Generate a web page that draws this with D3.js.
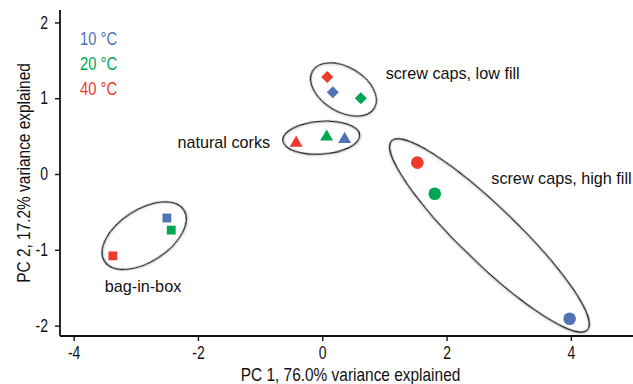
<!DOCTYPE html>
<html>
<head>
<meta charset="utf-8">
<script src="https://cdn.jsdelivr.net/npm/d3@7/dist/d3.min.js"></script>
<style>
  html, body { margin: 0; padding: 0; background: #fff; }
  svg { display: block; }
</style>
</head>
<body>
<svg id="chart" width="633" height="384"></svg>
<script>
// ---- data ----
const temperatures = ["10 °C", "20 °C", "40 °C"];
const closures = ["bag-in-box", "natural corks", "screw caps, low fill", "screw caps, high fill"];
// PC1 / PC2 scores, one array per temperature, ordered like `closures`
const pc1_10 = [-2.50, 0.36, 0.17, 3.98];
const pc2_10 = [-0.58, 0.46, 1.08, -1.91];
const pc1_20 = [-2.43, 0.07, 0.62, 1.81];
const pc2_20 = [-0.74, 0.49, 1.00, -0.26];
const pc1_40 = [-3.37, -0.42, 0.08, 1.53];
const pc2_40 = [-1.08, 0.41, 1.28, 0.15];
const xTicks = [-4, -2, 0, 2, 4];
const yTicks = [-2, -1, 0, 1, 2];
const xTitle = "PC 1, 76.0% variance explained";
const yTitle = "PC 2, 17.2% variance explained";
// group outlines: centre (PC1, PC2), semi-axes (PC1 units), rotation (deg)
const groupCx = [-2.865, -0.016, 0.342, 2.69];
const groupCy = [-0.814, 0.479, 1.115, -0.811];
const groupA = [0.76, 0.62, 0.58, 2.19];
const groupB = [0.42, 0.265, 0.36, 0.45];
const groupAngle = [-33, -4, 31, 44];
// group label anchors (PC1, PC2)
const labelX = [-3.5, -2.33, 1.02, 2.72];
const labelY = [-1.557, 0.343, 1.253, -0.132];

// ---- layout ----
const svg = d3.select("#chart");
const x = d3.scaleLinear().domain([-4.22, 5.0]).range([60, 633]);
const y = d3.scaleLinear().domain([-2.137, 2.164]).range([336, 10]);
const colors = ["#5273b6", "#00a651", "#ee3a2b"];
const shapes = [d3.symbolSquare, d3.symbolTriangle, d3.symbolSquare, d3.symbolCircle];
const rotations = [0, 0, 45, 0];
const sizes = [78, 72, 72, 125];
const baseFont = "'Liberation Sans', Arial, sans-serif";

// condense text horizontally (mimics a narrow grotesque)
function narrow(sel, factor) {
  sel.each(function () {
    const len = this.getComputedTextLength();
    d3.select(this).attr("textLength", len * factor).attr("lengthAdjust", "spacingAndGlyphs");
  });
}

const defs = svg.append("defs");
const f = defs.append("filter").attr("id", "glow").attr("x", "-20%").attr("y", "-20%").attr("width", "140%").attr("height", "140%");
f.append("feDropShadow").attr("dx", 0.8).attr("dy", 0.8).attr("stdDeviation", 1.2)
  .attr("flood-color", "#888").attr("flood-opacity", 0.45);

// group ellipses
const pxPerX = x(1) - x(0);
svg.append("g").selectAll("ellipse").data(closures).join("ellipse")
  .attr("transform", (d, i) => `translate(${x(groupCx[i])},${y(groupCy[i])}) rotate(${groupAngle[i]})`)
  .attr("rx", (d, i) => groupA[i] * pxPerX)
  .attr("ry", (d, i) => groupB[i] * pxPerX)
  .attr("fill", "none").attr("stroke", "#111").attr("stroke-width", 1.3)
  .attr("filter", "url(#glow)");

// points
const series = [[pc1_10, pc2_10], [pc1_20, pc2_20], [pc1_40, pc2_40]];
const pts = [];
series.forEach((s, ti) => closures.forEach((c, ci) => pts.push({ t: ti, c: ci, px: s[0][ci], py: s[1][ci] })));
svg.append("g").selectAll("path").data(pts).join("path")
  .attr("transform", d => `translate(${x(d.px)},${y(d.py)}) rotate(${rotations[d.c]})`)
  .attr("d", d => d3.symbol(shapes[d.c], sizes[d.c])())
  .attr("fill", d => colors[d.t]);

// axes
const xAxis = svg.append("g").attr("transform", `translate(0,${y.range()[0]})`)
  .call(d3.axisBottom(x).tickValues(xTicks).tickSize(5).tickPadding(6).tickFormat(d => String(d)));
const yAxis = svg.append("g").attr("transform", `translate(${x.range()[0]},0)`)
  .call(d3.axisLeft(y).tickValues(yTicks).tickSize(5).tickPadding(7).tickFormat(d => String(d)));
[xAxis, yAxis].forEach(a => {
  a.select(".domain").attr("stroke", "#111").attr("stroke-width", 1.8);
  a.selectAll(".tick line").attr("stroke", "#111").attr("stroke-width", 1.4);
  a.selectAll(".tick text").attr("font-family", baseFont).attr("font-size", 17.5).attr("fill", "#111")
    .call(narrow, 0.8);
});
xAxis.select(".domain").attr("d", `M${x.range()[0]},0H${x.range()[1]}`);
yAxis.select(".domain").attr("d", `M0,${y.range()[0]}V${y.range()[1]}`);

// axis titles
svg.append("text").attr("x", (x.range()[0] + x.range()[1]) / 2 + 4).attr("y", 381)
  .attr("text-anchor", "middle").attr("font-family", baseFont).attr("font-size", 18.6)
  .attr("fill", "#111").text(xTitle).call(narrow, 0.83);
svg.append("text").attr("transform", `translate(30,${(y.range()[0] + y.range()[1]) / 2}) rotate(-90)`)
  .attr("text-anchor", "middle").attr("font-family", baseFont).attr("font-size", 18.6)
  .attr("fill", "#111").text(yTitle).call(narrow, 0.83);

// legend
svg.append("g").selectAll("text").data(temperatures).join("text")
  .attr("x", 80).attr("y", (d, i) => 45 + i * 25)
  .attr("font-family", baseFont).attr("font-size", 18)
  .attr("fill", (d, i) => colors[i]).text(d => d).call(narrow, 0.82);

// group labels
svg.append("g").selectAll("text").data(closures).join("text")
  .attr("x", (d, i) => x(labelX[i])).attr("y", (d, i) => y(labelY[i]))
  .attr("font-family", baseFont).attr("font-size", 16.2)
  .attr("fill", "#111").text(d => d);
</script>
</body>
</html>
